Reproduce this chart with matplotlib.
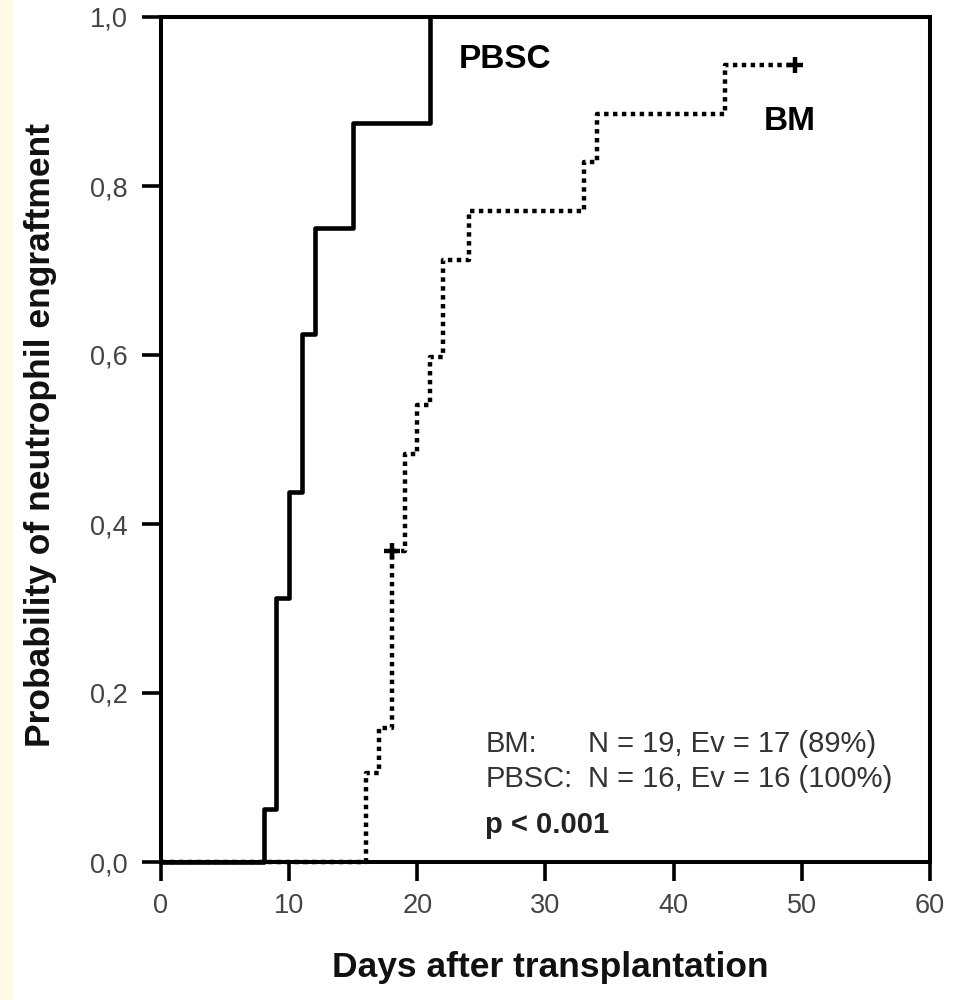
import matplotlib
matplotlib.use("Agg")
import matplotlib.pyplot as plt
from matplotlib.patches import Rectangle

plt.rcParams['font.family'] = ['Liberation Sans', 'DejaVu Sans']

# ---- data ----
pbsc_days = [0, 8, 9, 10, 11, 12, 15, 21]
pbsc_prob = [0.0, 0.0625, 0.3125, 0.4375, 0.625, 0.75, 0.875, 1.0]

bm_days = [0, 16, 17, 18, 19, 20, 21, 22, 24, 33, 34, 44, 49.5]
bm_prob = [0.0, 0.105, 0.158, 0.368, 0.483, 0.541, 0.598, 0.713, 0.770, 0.828, 0.885, 0.943, 0.943]

bm_censor_days = [18, 49.5]
bm_censor_prob = [0.368, 0.943]

x_ticks = [0, 10, 20, 30, 40, 50, 60]
x_tick_labels = ['0', '10', '20', '30', '40', '50', '60']
y_ticks = [0.0, 0.2, 0.4, 0.6, 0.8, 1.0]
y_tick_labels = ['0,0', '0,2', '0,4', '0,6', '0,8', '1,0']

series_labels = ['PBSC', 'BM']
stats_rows = [('BM:', 'N = 19, Ev = 17 (89%)'),
              ('PBSC:', 'N = 16, Ev = 16 (100%)')]
p_text = 'p < 0.001'

# ---- figure ----
W, H = 954, 1000
fig = plt.figure(figsize=(W / 100, H / 100), dpi=100)
fig.patch.set_facecolor('white')
fig.patches.append(Rectangle((0, 0), 13 / W, 1, transform=fig.transFigure,
                             facecolor='#fffbe3', edgecolor='none', zorder=0))

ax_l, ax_r, ax_t, ax_b = 161, 930, 17, 862
ax = fig.add_axes([ax_l / W, 1 - ax_b / H, (ax_r - ax_l) / W, (ax_b - ax_t) / H])

ax.step(pbsc_days, pbsc_prob, where='post', color='black', lw=3.3,
        solid_capstyle='butt', zorder=3, clip_on=False)
ax.step(bm_days, bm_prob, where='post', color='black', lw=3.2,
        linestyle=(0, (1, 1)), dash_capstyle='butt', zorder=3, clip_on=False)
ax.plot(bm_censor_days, bm_censor_prob, linestyle='none', marker='+',
        markersize=12, markeredgewidth=3.2, color='black', zorder=4, clip_on=False)

ax.set_xlim(0, 60)
ax.set_ylim(0, 1)
ax.set_xticks(x_ticks)
ax.set_xticklabels(x_tick_labels)
ax.set_yticks(y_ticks)
ax.set_yticklabels(y_tick_labels)

for s in ax.spines.values():
    s.set_linewidth(2.9)
    s.set_color('black')

ax.tick_params(axis='both', direction='out', length=14, width=2.6,
               color='black', labelsize=19.5, labelcolor='#444444')
ax.tick_params(axis='x', pad=8)
ax.tick_params(axis='y', pad=10)

# curve labels
ax.text(23.2, 0.940, series_labels[0], fontsize=24, fontweight='bold',
        ha='left', va='baseline')
ax.text(47.0, 0.866, series_labels[1], fontsize=24, fontweight='bold',
        ha='left', va='baseline')

# stats
stat_color = '#333333'
ax.text(25.3, 0.130, stats_rows[0][0], fontsize=21, color=stat_color,
        ha='left', va='baseline')
ax.text(33.3, 0.130, stats_rows[0][1], fontsize=21, color=stat_color,
        ha='left', va='baseline')
ax.text(25.3, 0.089, stats_rows[1][0], fontsize=21, color=stat_color,
        ha='left', va='baseline')
ax.text(33.3, 0.089, stats_rows[1][1], fontsize=21, color=stat_color,
        ha='left', va='baseline')
ax.text(25.3, 0.034, p_text, fontsize=21, fontweight='bold', color='#222222',
        ha='left', va='baseline')

# axis labels
fig.text(550 / W, 1 - 977 / H, 'Days after transplantation', fontsize=25.5,
         fontweight='bold', ha='center', va='baseline', color='#111111')
fig.text(41 / W, 1 - 435 / H, 'Probability of neutrophil engraftment',
         fontsize=25.5, fontweight='bold', ha='center', va='center',
         rotation=90, color='#111111')

fig.savefig('out.png', dpi=100)
